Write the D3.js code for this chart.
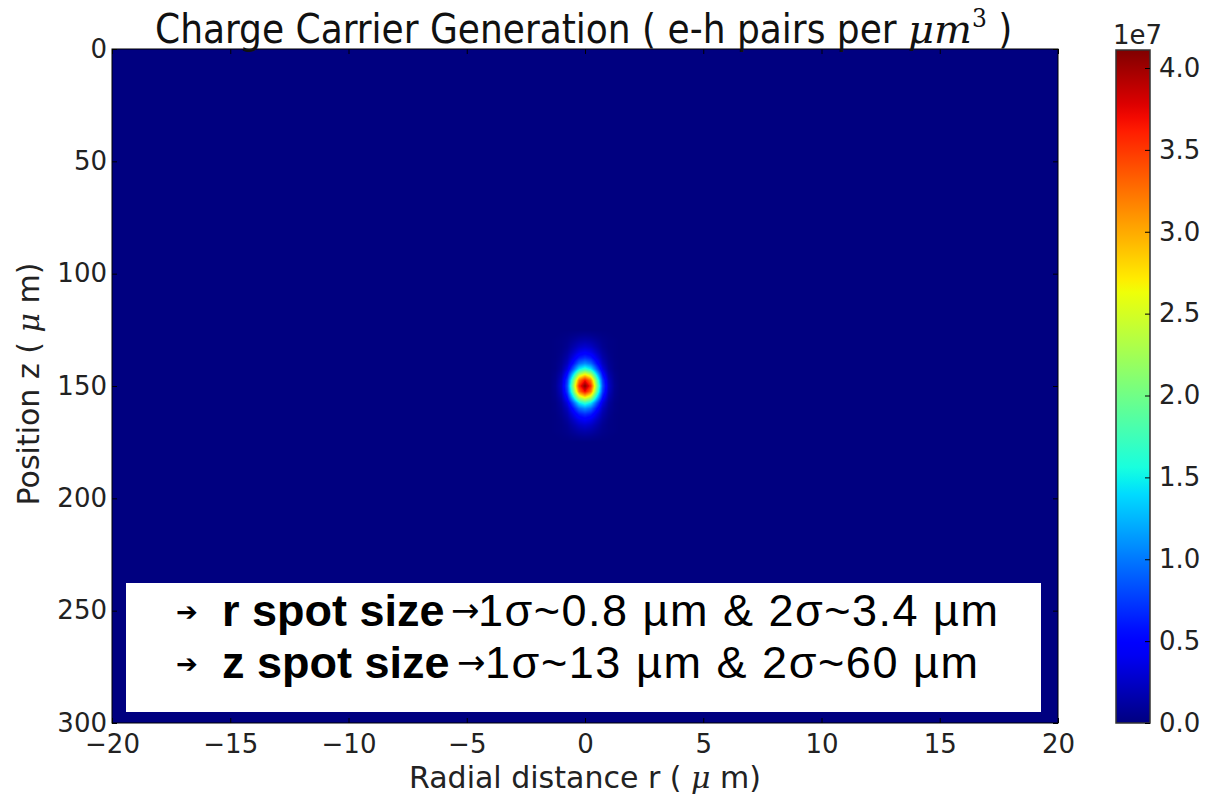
<!DOCTYPE html>
<html>
<head>
<meta charset="utf-8">
<script src="https://cdn.jsdelivr.net/npm/d3@7/dist/d3.min.js"></script>
<style>
  body { margin: 0; background: #fff; }
  svg { display: block; }
</style>
</head>
<body>
<svg id="chart" width="1206" height="800"></svg>
<script>
// ---- data ----------------------------------------------------------------
const xTicks = [-20, -15, -10, -5, 0, 5, 10, 15, 20];
const zTicks = [0, 50, 100, 150, 200, 250, 300];
const cbTicks = [0, 0.5, 1, 1.5, 2, 2.5, 3, 3.5, 4];

// radial sample positions |r| in µm (field is symmetric about r = 0)
const rSamples = [0, 0.25, 0.5, 0.75, 1.0, 1.25, 1.5];
// depth sample positions z in µm
const zSamples = [125, 127.5, 130, 132.5, 135, 137.5, 140, 142.5, 145, 147.5, 150,
                  152.5, 155, 157.5, 160, 162.5, 165, 167.5, 170, 172.5, 175];
// generated e-h pairs per µm^3, in units of 1e7; one row per zSamples entry,
// one column per rSamples entry; zero everywhere outside this window
const generation = [
  [0.00, 0.00, 0.00, 0.00, 0.00, 0.00, 0],
  [0.07, 0.06, 0.04, 0.02, 0.01, 0.00, 0],
  [0.16, 0.14, 0.09, 0.04, 0.02, 0.01, 0],
  [0.28, 0.24, 0.15, 0.06, 0.02, 0.01, 0],
  [0.45, 0.39, 0.24, 0.10, 0.03, 0.01, 0],
  [0.70, 0.61, 0.37, 0.15, 0.05, 0.01, 0],
  [1.08, 0.94, 0.56, 0.22, 0.07, 0.02, 0],
  [1.68, 1.46, 0.87, 0.34, 0.10, 0.02, 0],
  [2.73, 2.37, 1.41, 0.55, 0.16, 0.04, 0],
  [3.70, 3.21, 1.90, 0.74, 0.22, 0.05, 0],
  [4.11, 3.57, 2.12, 0.82, 0.25, 0.06, 0],
  [3.70, 3.21, 1.90, 0.74, 0.22, 0.05, 0],
  [2.73, 2.37, 1.41, 0.55, 0.16, 0.04, 0],
  [1.68, 1.46, 0.87, 0.34, 0.10, 0.02, 0],
  [1.08, 0.94, 0.56, 0.22, 0.07, 0.02, 0],
  [0.70, 0.61, 0.37, 0.15, 0.05, 0.01, 0],
  [0.45, 0.39, 0.24, 0.10, 0.03, 0.01, 0],
  [0.28, 0.24, 0.15, 0.06, 0.02, 0.01, 0],
  [0.16, 0.14, 0.09, 0.04, 0.02, 0.01, 0],
  [0.07, 0.06, 0.04, 0.02, 0.01, 0.00, 0],
  [0.00, 0.00, 0.00, 0.00, 0.00, 0.00, 0]
];

const titleText = "Charge Carrier Generation ( e-h pairs per ";
const xLabel = "Radial distance r ( ";
const yLabel = "Position z ( ";
const noteLines = [
  { bold: "r spot size", rest: "1σ~0.8 µm & 2σ~3.4 µm" },
  { bold: "z spot size", rest: "1σ~13 µm & 2σ~60 µm" }
];

// ---- jet colormap --------------------------------------------------------
const jetR = [[0, 0], [0.35, 0], [0.66, 1], [0.89, 1], [1, 0.5]];
const jetG = [[0, 0], [0.125, 0], [0.375, 1], [0.64, 1], [0.91, 0], [1, 0]];
const jetB = [[0, 0.5], [0.11, 1], [0.34, 1], [0.65, 0], [1, 0]];
function seg(pts, t) {
  for (let i = 1; i < pts.length; i++) {
    if (t <= pts[i][0]) {
      const [a, va] = pts[i - 1], [b, vb] = pts[i];
      return va + (vb - va) * (t - a) / (b - a);
    }
  }
  return pts[pts.length - 1][1];
}
function jetRGB(t) {
  t = Math.max(0, Math.min(1, t));
  return [seg(jetR, t) * 255, seg(jetG, t) * 255, seg(jetB, t) * 255];
}
const jet = t => { const c = jetRGB(t); return d3.rgb(c[0], c[1], c[2]).formatHex(); };

// ---- layout --------------------------------------------------------------
const plot = { left: 112, top: 49, right: 1058, bottom: 723 };
const cb = { left: 1116, right: 1150, top: 50, bottom: 723 };

const svg = d3.select("#chart");
const x = d3.scaleLinear().domain([-20, 20]).range([plot.left, plot.right]);
const y = d3.scaleLinear().domain([0, 300]).range([plot.top, plot.bottom]);
const vmax = d3.max(generation, row => d3.max(row));
const color = d3.scaleSequential(jet).domain([0, vmax]);
const cbScale = d3.scaleLinear().domain([0, vmax]).range([cb.bottom, cb.top]);

// ---- heat map ------------------------------------------------------------
const W = plot.right - plot.left, H = plot.bottom - plot.top;
const canvas = document.createElement("canvas");
canvas.width = W; canvas.height = H;
const ctx = canvas.getContext("2d");
ctx.fillStyle = color(0);
ctx.fillRect(0, 0, W, H);

function sampleField(r, z) {
  r = Math.abs(r);
  const rMax = rSamples[rSamples.length - 1];
  const z0 = zSamples[0], z1 = zSamples[zSamples.length - 1];
  if (r >= rMax || z <= z0 || z >= z1) return 0;
  const i = Math.max(1, d3.bisectRight(rSamples, r)) - 1;
  const j = Math.max(1, d3.bisectRight(zSamples, z)) - 1;
  const tr = (r - rSamples[i]) / (rSamples[i + 1] - rSamples[i]);
  const tz = (z - zSamples[j]) / (zSamples[j + 1] - zSamples[j]);
  const a = generation[j][i], b = generation[j][i + 1];
  const c = generation[j + 1][i], d = generation[j + 1][i + 1];
  return (a * (1 - tr) + b * tr) * (1 - tz) + (c * (1 - tr) + d * tr) * tz;
}

const rEdge = rSamples[rSamples.length - 1];
const px0 = Math.floor(x(-rEdge)) - plot.left, px1 = Math.ceil(x(rEdge)) - plot.left;
const py0 = Math.floor(y(zSamples[0])) - plot.top, py1 = Math.ceil(y(zSamples[zSamples.length - 1])) - plot.top;
const img = ctx.getImageData(px0, py0, px1 - px0, py1 - py0);
for (let py = py0; py < py1; py++) {
  for (let px = px0; px < px1; px++) {
    const v = sampleField(x.invert(plot.left + px + 0.5), y.invert(plot.top + py + 0.5));
    const c = jetRGB(v / vmax);
    const k = ((py - py0) * (px1 - px0) + (px - px0)) * 4;
    img.data[k] = c[0]; img.data[k + 1] = c[1]; img.data[k + 2] = c[2]; img.data[k + 3] = 255;
  }
}
ctx.putImageData(img, px0, py0);

svg.append("image")
  .attr("x", plot.left).attr("y", plot.top)
  .attr("width", W).attr("height", H)
  .attr("href", canvas.toDataURL());

// ---- annotation box ------------------------------------------------------
const note = svg.append("g");
note.append("rect")
  .attr("x", 126).attr("y", 583).attr("width", 915).attr("height", 129)
  .attr("fill", "#fff");
const noteRows = [
  { base: 626, boldX: 222, arrowX: 451, restX: 478, restLen: 520 },
  { base: 678, boldX: 222, arrowX: 457, restX: 485, restLen: 493 }
];
noteLines.forEach((ln, i) => {
  const p = noteRows[i];
  note.append("text")
    .attr("x", 176).attr("y", p.base - 5)
    .attr("font-family", "DejaVu Sans").attr("font-size", 26).attr("font-weight", "bold")
    .attr("fill", "#000").text("➔");
  note.append("text")
    .attr("x", p.boldX).attr("y", p.base)
    .attr("font-family", "Liberation Sans, Arial, sans-serif")
    .attr("font-weight", "bold").attr("font-size", 45)
    .attr("fill", "#000").text(ln.bold);
  note.append("text")
    .attr("x", p.arrowX).attr("y", p.base - 4)
    .attr("font-family", "DejaVu Sans, sans-serif")
    .attr("font-size", 34).attr("fill", "#000").text("→");
  note.append("text")
    .attr("x", p.restX).attr("y", p.base)
    .attr("font-family", "Liberation Sans, Arial, sans-serif")
    .attr("font-size", 45).attr("fill", "#000")
    .attr("textLength", p.restLen).attr("lengthAdjust", "spacing")
    .text(ln.rest);
});

// ---- axes ----------------------------------------------------------------
const tickFont = "DejaVu Sans, sans-serif";
function styleAxis(g, showLabels) {
  g.select(".domain").remove();
  g.selectAll(".tick line").attr("stroke", "#000").attr("stroke-width", 1);
  g.selectAll(".tick text")
    .attr("font-family", tickFont).attr("font-size", 26).attr("fill", "#222");
  if (!showLabels) g.selectAll(".tick text").remove();
}

svg.append("g").attr("transform", `translate(0,${plot.bottom})`)
  .call(d3.axisBottom(x).tickValues(xTicks).tickSize(-5).tickPadding(12).tickFormat(d3.format("d")))
  .call(g => styleAxis(g, true));
svg.append("g").attr("transform", `translate(0,${plot.top})`)
  .call(d3.axisTop(x).tickValues(xTicks).tickSize(-5))
  .call(g => styleAxis(g, false));
svg.append("g").attr("transform", `translate(${plot.left},0)`)
  .call(d3.axisLeft(y).tickValues(zTicks).tickSize(-5).tickPadding(5).tickFormat(d3.format("d")))
  .call(g => styleAxis(g, true));
svg.append("g").attr("transform", `translate(${plot.right},0)`)
  .call(d3.axisRight(y).tickValues(zTicks).tickSize(-5))
  .call(g => styleAxis(g, false));

svg.append("rect")
  .attr("x", plot.left).attr("y", plot.top).attr("width", W).attr("height", H)
  .attr("fill", "none").attr("stroke", "#000").attr("stroke-width", 1);

// ---- titles --------------------------------------------------------------
const title = svg.append("text")
  .attr("x", 155).attr("y", 43)
  .attr("font-family", "DejaVu Sans Condensed, DejaVu Sans, sans-serif")
  .attr("font-stretch", "condensed")
  .attr("font-size", 40).attr("fill", "#111");
title.append("tspan").text(titleText);
title.append("tspan")
  .attr("font-family", "DejaVu Serif, serif").attr("font-style", "italic")
  .attr("font-stretch", "normal").text("μm");
title.append("tspan").attr("font-size", 26).attr("dy", -16).attr("font-family", "DejaVu Serif, serif").text("3");
title.append("tspan").attr("dy", 16).text(" )");

const xl = svg.append("text")
  .attr("x", 585).attr("y", 788).attr("text-anchor", "middle")
  .attr("font-family", tickFont).attr("font-size", 30).attr("fill", "#222");
xl.append("tspan").text(xLabel);
xl.append("tspan").attr("font-family", "DejaVu Serif, serif").attr("font-style", "italic").text("μ");
xl.append("tspan").text(" m)");

const yl = svg.append("text")
  .attr("transform", `translate(39,${(plot.top + plot.bottom) / 2 - 2}) rotate(-90)`)
  .attr("text-anchor", "middle")
  .attr("font-family", tickFont).attr("font-size", 30).attr("fill", "#222");
yl.append("tspan").text(yLabel);
yl.append("tspan").attr("font-family", "DejaVu Serif, serif").attr("font-style", "italic").text("μ");
yl.append("tspan").text(" m)");

// ---- colour bar ----------------------------------------------------------
const grad = svg.append("defs").append("linearGradient")
  .attr("id", "jetbar").attr("x1", 0).attr("y1", 1).attr("x2", 0).attr("y2", 0);
d3.range(0, 1.0001, 0.02).forEach(t => {
  grad.append("stop").attr("offset", t).attr("stop-color", jet(t));
});
svg.append("rect")
  .attr("x", cb.left).attr("y", cb.top)
  .attr("width", cb.right - cb.left).attr("height", cb.bottom - cb.top)
  .attr("fill", "url(#jetbar)").attr("stroke", "#333").attr("stroke-width", 1.5);

svg.append("g").attr("transform", `translate(${cb.right},0)`)
  .call(d3.axisRight(cbScale).tickValues(cbTicks).tickSize(-5).tickPadding(9).tickFormat(d3.format(".1f")))
  .call(g => {
    g.select(".domain").remove();
    g.selectAll(".tick line").attr("stroke", "#000");
    g.selectAll(".tick text").attr("font-family", tickFont).attr("font-size", 26).attr("fill", "#222");
  });

svg.append("text")
  .attr("x", cb.left - 3).attr("y", 44)
  .attr("font-family", tickFont).attr("font-size", 26).attr("fill", "#222")
  .text("1e7");
</script>
</body>
</html>
